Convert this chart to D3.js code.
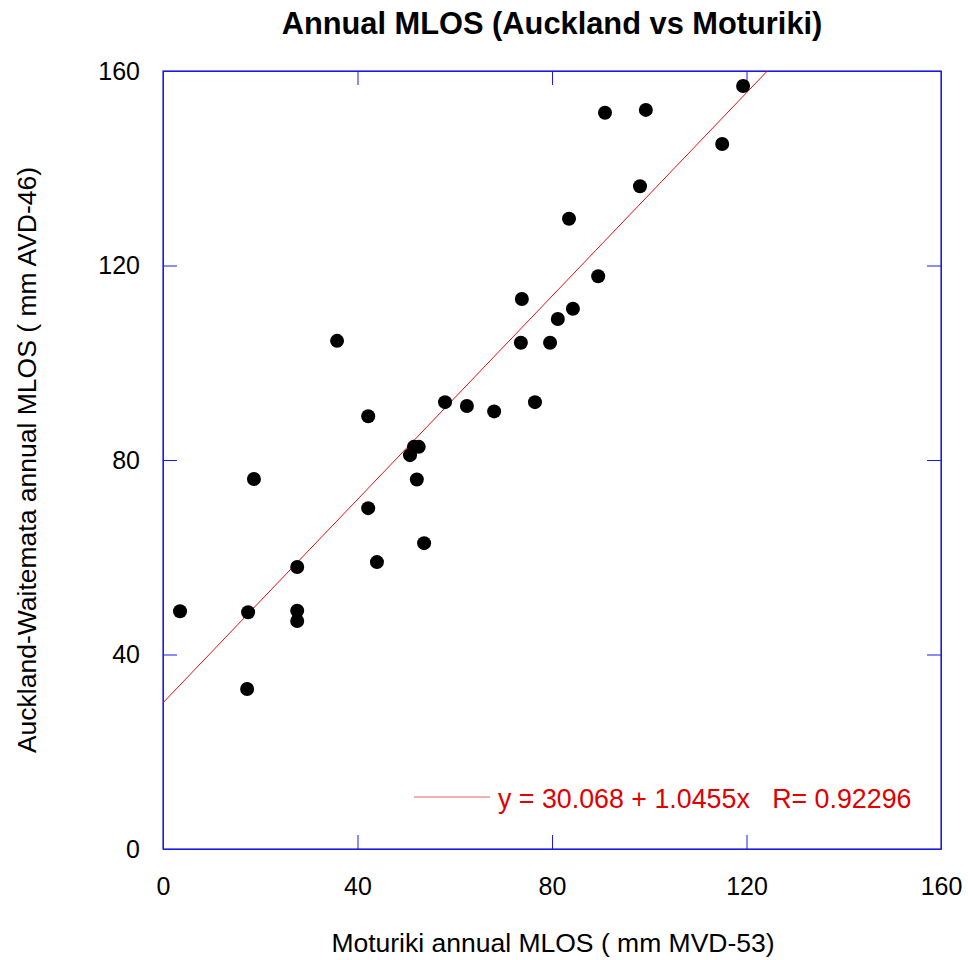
<!DOCTYPE html>
<html>
<head>
  <meta charset="utf-8">
  <title>Annual MLOS (Auckland vs Moturiki)</title>
  <script src="https://cdn.jsdelivr.net/npm/d3@7/dist/d3.min.js"></script>
  <style>
    body { margin: 0; background: #fff; }
    text { font-family: "Liberation Sans", Arial, sans-serif; }
  </style>
</head>
<body>
  <div id="chart"></div>
  <script>
    // Moturiki (x) vs Auckland-Waitemata (y) annual MLOS, mm
    const moturiki = [3.5, 17.5, 17.3, 18.7, 27.6, 27.6, 27.6, 35.8, 42.2, 42.2, 44.0,
      50.8, 51.6, 52.6, 52.2, 53.7, 58.0, 62.5, 68.1, 73.8, 73.6, 76.5, 79.6, 81.2,
      83.5, 84.3, 89.5, 90.9, 98.1, 99.3, 115.0, 119.3]
    const auckland = [48.9, 48.7, 32.9, 76.1, 58.0, 49.0, 46.9, 104.5, 89.0, 70.1, 59.0,
      81.0, 82.7, 82.7, 76.0, 62.9, 91.9, 91.1, 90.0, 113.1, 104.1, 91.9, 104.1, 109.0,
      129.6, 111.1, 117.8, 151.4, 136.3, 152.0, 145.0, 156.9]
    const ticks = [0, 40, 80, 120, 160]
    const intercept = 30.068
    const slope = 1.0455
    const rValue = 0.92296

    const width = 968
    const height = 960
    const margin = { left: 163, right: 27, top: 71, bottom: 111 }

    const svg = d3.select("#chart").append("svg")
      .attr("width", width)
      .attr("height", height)

    const x = d3.scaleLinear().domain([0, 160]).range([margin.left, width - margin.right])
    const y = d3.scaleLinear().domain([0, 160]).range([height - margin.bottom, margin.top])

    const blue = "#1a1ae6"
    const tickLen = 14

    // frame
    svg.append("rect")
      .attr("x", x(0)).attr("y", y(160))
      .attr("width", x(160) - x(0)).attr("height", y(0) - y(160))
      .attr("fill", "none").attr("stroke", blue).attr("stroke-width", 1.2)

    // axes with inward ticks on all four sides
    const axisBottom = d3.axisBottom(x).tickValues(ticks).tickSizeInner(-tickLen).tickSizeOuter(0).tickPadding(28)
    const axisLeft = d3.axisLeft(y).tickValues(ticks).tickSizeInner(-tickLen).tickSizeOuter(0).tickPadding(23)
    const axisTop = d3.axisTop(x).tickValues(ticks).tickSizeInner(-tickLen).tickSizeOuter(0).tickFormat("")
    const axisRight = d3.axisRight(y).tickValues(ticks).tickSizeInner(-tickLen).tickSizeOuter(0).tickFormat("")

    const gb = svg.append("g").attr("transform", `translate(0,${y(0)})`).call(axisBottom)
    const gl = svg.append("g").attr("transform", `translate(${x(0)},0)`).call(axisLeft)
    const gt = svg.append("g").attr("transform", `translate(0,${y(160)})`).call(axisTop)
    const gr = svg.append("g").attr("transform", `translate(${x(160)},0)`).call(axisRight)

    ;[gb, gl, gt, gr].forEach(g => {
      g.select(".domain").attr("stroke", blue)
      g.selectAll(".tick line").attr("stroke", blue)
      g.selectAll(".tick text").attr("fill", "#000").style("font-size", "25px")
        .style("font-family", "Liberation Sans, Arial, sans-serif")
    })

    // regression line, clipped to plot
    const xEnd = (160 - intercept) / slope
    svg.append("line")
      .attr("x1", x(0)).attr("y1", y(intercept))
      .attr("x2", x(xEnd)).attr("y2", y(160))
      .attr("stroke", "#e01010").attr("stroke-width", 1)

    // points
    svg.append("g").selectAll("circle")
      .data(moturiki.map((d, i) => [d, auckland[i]]))
      .enter().append("circle")
      .attr("cx", d => x(d[0]))
      .attr("cy", d => y(d[1]))
      .attr("r", 7)
      .attr("fill", "#000")

    // legend
    svg.append("line")
      .attr("x1", 414).attr("x2", 490).attr("y1", 797).attr("y2", 797)
      .attr("stroke", "#e86060").attr("stroke-width", 1.2)
    svg.append("text")
      .attr("x", 498).attr("y", 808)
      .attr("fill", "#e00000")
      .style("font-size", "26.8px")
      .attr("xml:space", "preserve")
      .text(`y = ${intercept} + ${slope}x   R= ${rValue}`)

    // title and axis labels
    svg.append("text")
      .attr("x", 552).attr("y", 34)
      .attr("text-anchor", "middle")
      .style("font-size", "30.8px").style("font-weight", "bold")
      .text("Annual MLOS (Auckland vs Moturiki)")

    svg.append("text")
      .attr("x", 553).attr("y", 952)
      .attr("text-anchor", "middle")
      .style("font-size", "26.5px")
      .text("Moturiki annual MLOS ( mm MVD-53)")

    svg.append("text")
      .attr("transform", `translate(36,${(y(0) + y(160)) / 2}) rotate(-90)`)
      .attr("text-anchor", "middle")
      .style("font-size", "26.5px")
      .text("Auckland-Waitemata annual MLOS ( mm AVD-46)")
  </script>
</body>
</html>
